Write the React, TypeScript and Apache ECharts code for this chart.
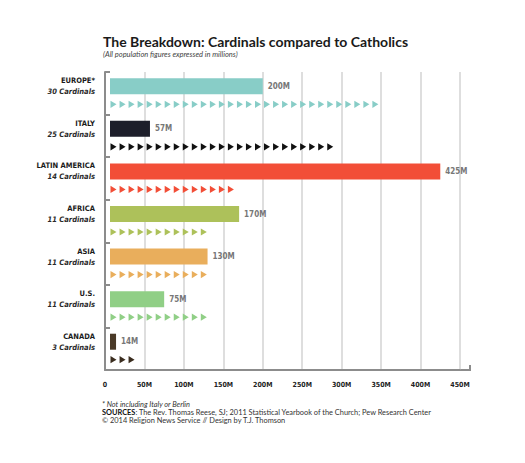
import React, { useEffect, useRef } from 'react';
import * as echarts from 'echarts';

const regions = ['EUROPE*', 'ITALY', 'LATIN AMERICA', 'AFRICA', 'ASIA', 'U.S.', 'CANADA'];
const cardinals = [30, 25, 14, 11, 11, 11, 3];
const catholics = [200, 57, 425, 170, 130, 75, 14];
const barColors = ['#88cdc7', '#1d1e2a', '#f24e37', '#adc15a', '#e9ae5c', '#90cf86', '#4a3a28'];
const triColors = ['#88cdc7', '#111111', '#f24e37', '#adc15a', '#e9ae5c', '#90cf86', '#3a2c1e'];
const xMax = 450;
const xInterval = 50;
const titleText = 'The Breakdown: Cardinals compared to Catholics';
const subtitleText = '(All population figures expressed in millions)';
const footNote = '* Not including Italy or Berlin';
const sourcesText = 'The Rev. Thomas Reese, SJ; 2011 Statistical Yearbook of the Church; Pew Research Center';
const creditText = '© 2014 Religion News Service // Design by T.J. Thomson';

const COND = '"DejaVu Sans Condensed", "Liberation Sans Narrow", "DejaVu Sans", sans-serif';
const SANS = 'Lato, "Open Sans", "DejaVu Sans", sans-serif';

export default function App() {
  const ref = useRef<HTMLDivElement>(null);
  useEffect(() => {
    if (!ref.current) return;
    const chart = echarts.init(ref.current, undefined, { renderer: 'svg' });
    const gridLeft = 105;
    const gridWidth = 355;
    const triUnitPx = 9.03;
    const option: any = {
      animation: false,
      backgroundColor: '#ffffff',
      grid: { left: gridLeft, top: 72, width: gridWidth, height: 298 },
      xAxis: [
        {
          type: 'value',
          min: 0,
          max: xMax,
          interval: xInterval,
          axisLine: { show: true, lineStyle: { color: '#8c8c8c', width: 2 } },
          axisTick: { show: false },
          axisLabel: {
            margin: 11,
            fontFamily: COND,
            fontWeight: 'bold',
            fontSize: 7,
            color: '#222',
            formatter: (v: number) => (v === 0 ? '0' : v + 'M'),
          },
          splitLine: { show: true, showMinLine: false, lineStyle: { color: '#d3d3d3', width: 1.5 } },
        },
        {
          type: 'value',
          show: false,
          min: 0,
          max: gridWidth / triUnitPx,
        },
      ],
      yAxis: {
        type: 'category',
        inverse: true,
        data: regions,
        axisLine: { show: true, lineStyle: { color: '#8c8c8c', width: 2 } },
        axisTick: { show: true, inside: true, length: 5, lineStyle: { color: '#8c8c8c', width: 2 } },
        splitLine: { show: false },
        axisLabel: {
          margin: 10,
          padding: [0, 0, 14, 0],
          formatter: (value: string, index: number) => `{n|${value}}\n{c|${cardinals[index]} Cardinals}`,
          rich: {
            n: { fontFamily: COND, fontWeight: 'bold', fontSize: 7.5, color: '#1a1a1a', lineHeight: 11, align: 'right' },
            c: { fontFamily: COND, fontWeight: 'bold', fontStyle: 'italic', fontSize: 7.5, color: '#2a2a2a', lineHeight: 11, align: 'right' },
          },
        },
      },
      series: [
        {
          type: 'custom',
          xAxisIndex: 0,
          yAxisIndex: 0,
          encode: { x: 0, y: 1 },
          data: catholics.map((v, i) => [v, i]),
          renderItem: (params: any, api: any) => {
            const idx = api.value(1);
            const val = api.value(0);
            const start = api.coord([0, idx]);
            const end = api.coord([val, idx]);
            const cy = start[1] - 7;
            const x0 = start[0] + 5;
            return {
              type: 'group',
              children: [
                {
                  type: 'rect',
                  shape: { x: x0, y: cy - 8, width: Math.max(end[0] - x0, 2), height: 16 },
                  style: { fill: barColors[idx] },
                },
                {
                  type: 'text',
                  x: Math.max(end[0], x0 + 2) + 5,
                  y: cy,
                  style: {
                    text: val + 'M',
                    fill: '#777777',
                    font: `bold 8px ${COND}`,
                    verticalAlign: 'middle',
                    align: 'left',
                  },
                },
              ],
            };
          },
        },
        {
          type: 'pictorialBar',
          xAxisIndex: 1,
          yAxisIndex: 0,
          symbol: 'path://M0,0L10,5L0,10Z',
          symbolSize: [6, 7],
          symbolMargin: '1!',
          symbolOffset: [4, 11],
          symbolPosition: 'start',
          data: cardinals.map((c, i) => ({
            value: c,
            symbolRepeat: c,
            symbolBoundingData: c,
            itemStyle: { color: triColors[i] },
          })),
        },
      ],
      graphic: [
        {
          type: 'text',
          left: 103,
          top: 34,
          style: { text: titleText, font: `bold 14px ${SANS}`, fill: '#1a1a1a' },
        },
        {
          type: 'text',
          left: 103,
          top: 50,
          style: { text: subtitleText, font: `italic 7.5px ${SANS}`, fill: '#444' },
        },
        {
          type: 'polyline',
          shape: { points: [[gridLeft + gridWidth, 370], [gridLeft + gridWidth + 10, 370], [gridLeft + gridWidth + 10, 365]] },
          style: { stroke: '#8c8c8c', lineWidth: 2, fill: 'none' },
        },
        {
          type: 'text',
          left: 102,
          top: 401,
          style: { text: footNote, font: `italic 7.4px ${SANS}`, fill: '#333' },
        },
        {
          type: 'text',
          left: 102,
          top: 409,
          style: {
            text: `{b|SOURCES}: ${sourcesText}`,
            font: `7.4px ${SANS}`,
            fill: '#333',
            rich: { b: { fontFamily: SANS, fontWeight: 'bold', fontSize: 7.4, fill: '#111' } },
          },
        },
        {
          type: 'text',
          left: 102,
          top: 417,
          style: { text: creditText, font: `7.4px ${SANS}`, fill: '#333' },
        },
      ],
    };
    chart.setOption(option);
    return () => chart.dispose();
  }, []);
  return (
    <div
      ref={ref}
      style={{ position: 'fixed', left: 0, top: 0, width: 525, height: 463, background: '#fff' }}
    />
  );
}
